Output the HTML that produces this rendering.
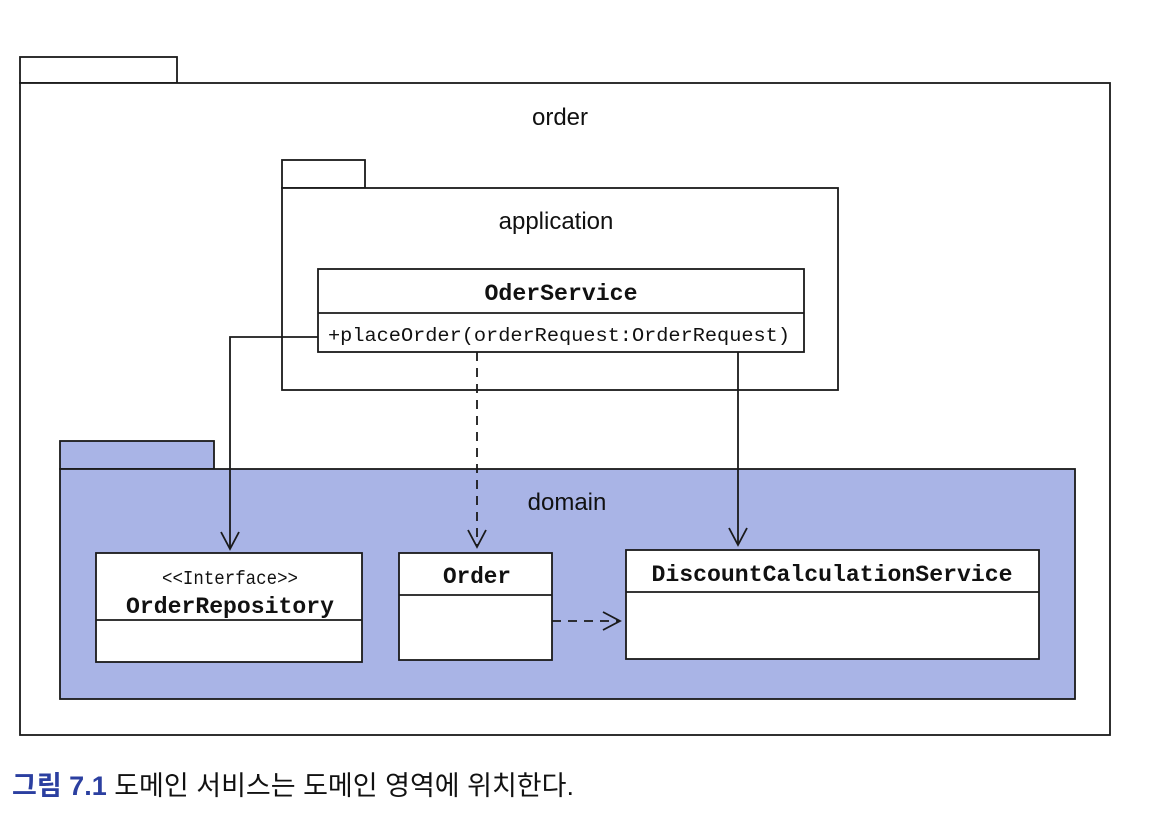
<!DOCTYPE html>
<html><head><meta charset="utf-8"><style>
html,body{margin:0;padding:0;background:#fff;}
svg{display:block;}
.m{font-family:"Liberation Mono",monospace;}
.s{font-family:"Liberation Sans","DejaVu Sans",sans-serif;}
</style></head><body>
<svg width="1150" height="823" viewBox="0 0 1150 823" xmlns="http://www.w3.org/2000/svg">
<g fill="none" stroke="#1a1a1a" stroke-width="1.8">
<rect x="20" y="57" width="157" height="26" fill="#fff"/>
<rect x="20" y="83" width="1090" height="652" fill="#fff"/>
<rect x="282" y="160" width="83" height="28" fill="#fff"/>
<rect x="282" y="188" width="556" height="202" fill="#fff"/>
<rect x="60" y="441" width="154" height="28" fill="#a9b4e6"/>
<rect x="60" y="469" width="1015" height="230" fill="#a9b4e6"/>
<rect x="318" y="269" width="486" height="83" fill="#fff"/>
<line x1="318" y1="313" x2="804" y2="313"/>
<rect x="96" y="553" width="266" height="109" fill="#fff"/>
<line x1="96" y1="620" x2="362" y2="620"/>
<rect x="399" y="553" width="153" height="107" fill="#fff"/>
<line x1="399" y1="595" x2="552" y2="595"/>
<rect x="626" y="550" width="413" height="109" fill="#fff"/>
<line x1="626" y1="592" x2="1039" y2="592"/>
<polyline points="318,337 230,337 230,549"/>
<polyline points="221,532 230,549 239,532"/>
<line x1="477" y1="352" x2="477" y2="547" stroke-dasharray="9,7"/>
<polyline points="468,530 477,547 486,530"/>
<line x1="738" y1="352" x2="738" y2="545"/>
<polyline points="729,528 738,545 747,528"/>
<line x1="552" y1="621" x2="619" y2="621" stroke-dasharray="9,7"/>
<polyline points="603,612 620,621 603,630"/>
</g>
<g fill="#111">
<text class="s" x="560" y="125" font-size="24" text-anchor="middle">order</text>
<text class="s" x="556" y="229" font-size="24" text-anchor="middle">application</text>
<text class="s" x="567" y="510" font-size="24" text-anchor="middle">domain</text>
<text class="m" x="561" y="300" font-size="23" font-weight="bold" text-anchor="middle" textLength="153" lengthAdjust="spacingAndGlyphs">OderService</text>
<text class="m" x="328" y="341" font-size="19" textLength="462" lengthAdjust="spacingAndGlyphs">+placeOrder(orderRequest:OrderRequest)</text>
<text class="m" x="230" y="584" font-size="19" text-anchor="middle" textLength="136" lengthAdjust="spacingAndGlyphs">&lt;&lt;Interface&gt;&gt;</text>
<text class="m" x="230" y="613" font-size="23" font-weight="bold" text-anchor="middle" textLength="208" lengthAdjust="spacingAndGlyphs">OrderRepository</text>
<text class="m" x="477" y="583" font-size="23" font-weight="bold" text-anchor="middle" textLength="68" lengthAdjust="spacingAndGlyphs">Order</text>
<text class="m" x="832" y="581" font-size="23" font-weight="bold" text-anchor="middle" textLength="361" lengthAdjust="spacingAndGlyphs">DiscountCalculationService</text>
<text x="12" y="795" font-size="27" font-family="'Liberation Sans','Noto Sans CJK KR',sans-serif" textLength="562" lengthAdjust="spacingAndGlyphs"><tspan fill="#2b3fa0" font-weight="bold">그림 7.1</tspan> 도메인 서비스는 도메인 영역에 위치한다.</text>
</g>
</svg>
</body></html>
